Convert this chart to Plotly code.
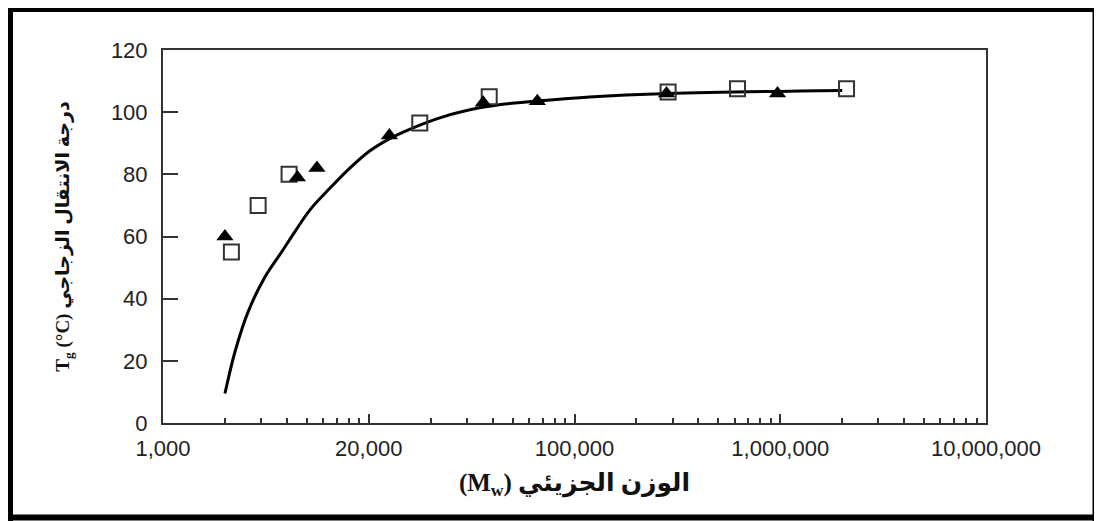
import plotly.graph_objects as go

# ---- data ----
tri_mw = [2000, 4500, 5600, 12600, 36000, 66000, 280000, 970000]
tri_tg = [60, 79, 82, 92.5, 103, 103.5, 106, 106]

sq_mw = [2150, 2900, 4100, 17700, 38500, 285000, 620000, 2100000]
sq_tg = [55, 70, 80, 96.5, 105, 106.5, 107.5, 107.5]

curve_mw = [2000, 2240, 2600, 3130, 3770, 4370, 5170, 6470, 8090, 10100, 12650,
            15800, 22950, 34570, 48350, 75650, 118300, 289000, 2000000]
curve_tg = [9.5, 23, 36, 47, 55, 61.5, 68.5, 75.5, 82, 87.5, 91.5,
            94.5, 98.5, 101.4, 102.8, 103.9, 104.9, 106, 107]

x_tickvals = [1e3, 1e4, 1e5, 1e6, 1e7]
x_ticktext = ["1,000", "20,000", "100,000", "1,000,000", "10,000,000"]
y_tickvals = [0, 20, 40, 60, 80, 100, 120]

minor_vals = [m * 10 ** e for e in range(3, 7) for m in range(2, 10)]

# page body adds an 8px offset; figure coords = screenshot coords - 8
W, H = 1094, 513
L, R, T, B = 155, 116, 42, 98
PW, PH = W - L - R, H - T - B

def px_x(px):
    return (px - L) / PW

def px_y(py):
    return (H - B - py) / PH

fig = go.Figure()

fig.add_trace(go.Scatter(
    x=curve_mw, y=curve_tg, mode="lines",
    line=dict(color="black", width=3, shape="spline", smoothing=1.0),
    showlegend=False, hoverinfo="skip"))

fig.add_trace(go.Scatter(
    x=sq_mw, y=sq_tg, mode="markers",
    marker=dict(symbol="square-open", size=15, color="#333", line=dict(width=2, color="#333")),
    showlegend=False))

fig.add_trace(go.Scatter(
    x=tri_mw, y=tri_tg, mode="markers",
    marker=dict(symbol="triangle-up", size=15, color="black"),
    showlegend=False))

tick_font = dict(family="Liberation Sans, Arial, sans-serif", size=22, color="#222")

fig.update_xaxes(
    type="log", range=[3, 7],
    tickmode="array", tickvals=x_tickvals, ticktext=x_ticktext,
    ticks="inside", ticklen=9, tickwidth=2, tickcolor="#333",
    minor=dict(tickmode="array", tickvals=minor_vals, ticks="inside", ticklen=5,
               tickwidth=2, tickcolor="#333", showgrid=False),
    showline=True, linecolor="#333", linewidth=2, mirror=True,
    showgrid=False, zeroline=False, tickfont=tick_font, ticklabelstandoff=5,
    title=dict(text="<b>(M<sub>w</sub>) الوزن الجزيئي</b>",
               font=dict(family="Liberation Serif, DejaVu Sans, serif", size=25, color="#111"),
               standoff=13),
)

fig.update_yaxes(
    range=[0, 120], tickmode="array", tickvals=y_tickvals,
    ticks="inside", ticklen=15, tickwidth=2, tickcolor="#333",
    showline=True, linecolor="#333", linewidth=2, mirror=True,
    showgrid=False, zeroline=False, tickfont=tick_font, ticklabelstandoff=9,
    title=dict(text="<b>T<sub>g</sub> (°C) درجة الانتقال الزجاجي</b>",
               font=dict(family="Liberation Serif, DejaVu Sans, serif", size=19, color="#111"),
               standoff=36),
)

line_kw = dict(type="line", xref="paper", yref="paper", layer="above")
shapes = [
    dict(**line_kw, x0=px_x(2.5), x1=px_x(2.5), y0=px_y(0), y1=px_y(H), line=dict(color="black", width=5)),
    dict(**line_kw, x0=px_x(0), x1=px_x(W), y0=px_y(2), y1=px_y(2), line=dict(color="black", width=4)),
    dict(**line_kw, x0=px_x(1087.5), x1=px_x(1087.5), y0=px_y(0), y1=px_y(H), line=dict(color="black", width=6)),
    dict(**line_kw, x0=px_x(0), x1=px_x(W), y0=px_y(509.5), y1=px_y(509.5), line=dict(color="black", width=6)),
]

fig.update_layout(
    width=W, height=H,
    margin=dict(l=L, r=R, t=T, b=B, autoexpand=False),
    paper_bgcolor="white", plot_bgcolor="white",
    shapes=shapes, showlegend=False,
)

fig.write_html("out.html")
